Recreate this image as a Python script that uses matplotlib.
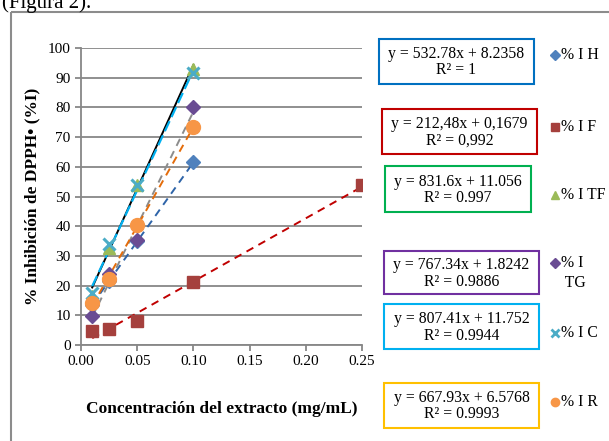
import numpy as np
import matplotlib
matplotlib.use("Agg")
import matplotlib.pyplot as plt
from matplotlib.patches import Rectangle

plt.rcParams["font.family"] = ["Liberation Serif", "DejaVu Serif"]

conc = [0.01, 0.025, 0.05, 0.1]
conc_f = [0.01, 0.025, 0.05, 0.1, 0.25]

i_h = [13.6, 21.5, 35.0, 61.5]
i_f = [4.8, 5.5, 8.1, 21.3, 53.8]
i_tf = [16.5, 32.5, 54.0, 93.0]
i_tg = [9.7, 24.0, 35.5, 80.0]
i_c = [17.5, 34.0, 54.0, 91.5]
i_r = [14.0, 22.3, 40.3, 73.5]

names = ["% I H", "% I F", "% I TF", "% I\n TG", "% I C", "% I R"]
slopes = [532.78, 212.48, 831.6, 767.34, 807.41, 667.93]
intercepts = [8.2358, 0.1679, 11.056, 1.8242, 11.752, 6.5768]
eq_lines = ["y = 532.78x + 8.2358", "y = 212,48x + 0,1679", "y = 831.6x + 11.056",
            "y = 767.34x + 1.8242", "y = 807.41x + 11.752", "y = 667.93x + 6.5768"]
r2_lines = ["R² = 1", "R² = 0,992", "R² = 0.997", "R² = 0.9886", "R² = 0.9944", "R² = 0.9993"]

series = [
    (conc, i_h, "D", "#4F81BD", 7),
    (conc_f, i_f, "s", "#A5403D", 9),
    (conc, i_tf, "^", "#9BBB59", 9),
    (conc, i_tg, "D", "#6A4C93", 7),
    (conc, i_c, "x", "#4BACC6", 9),
    (conc, i_r, "o", "#F79646", 10),
]
trend_styles = [
    ("#2E64A8", (0, (4, 3)), 1.4),
    ("#C00000", (0, (4, 3)), 1.4),
    ("black", "-", 1.4),
    ("#8C8C8C", (0, (4, 3)), 1.4),
    ("#00B0F0", (0, (5, 2)), 1.6),
    ("#E46C0A", (0, (4, 3)), 1.4),
]
box_colors = ["#0070C0", "#C00000", "#00B050", "#7030A0", "#00B0F0", "#FFC000"]

fig = plt.figure(figsize=(6.09, 4.41), dpi=100)
ax = fig.add_axes([81 / 609, 1 - 345 / 441, 281 / 609, 297 / 441])

for (xs, ys, mk, col, ms), (tc, ls, lw), m, b in zip(series, trend_styles, slopes, intercepts):
    xx = np.array([xs[0], xs[-1]])
    ax.plot(xx, m * xx + b, color=tc, linestyle=ls, linewidth=lw, zorder=3)

for xs, ys, mk, col, ms in series:
    if mk == "x":
        ax.plot(xs, ys, linestyle="none", marker="x", color=col, markersize=ms,
                markeredgewidth=2.2, zorder=4)
    else:
        ax.plot(xs, ys, linestyle="none", marker=mk, color=col, markersize=ms,
                markeredgecolor=col, zorder=4)

ax.set_xlim(0, 0.25)
ax.set_ylim(0, 100)
ax.set_xticks(np.arange(0, 0.26, 0.05))
ax.set_xticklabels([f"{v:.2f}" for v in np.arange(0, 0.26, 0.05)])
ax.set_yticks(range(0, 101, 10))
ax.yaxis.grid(True, color="#878787", linewidth=1.3)
ax.set_axisbelow(True)
for s in ["top", "right"]:
    ax.spines[s].set_visible(False)
for s in ["left", "bottom"]:
    ax.spines[s].set_color("#878787")
    ax.spines[s].set_linewidth(1.3)
ax.tick_params(colors="#878787", labelcolor="black", labelsize=11, length=4, width=1.3)
ax.set_ylabel("% Inhibición de DPPH• (%I)", fontsize=12.5, fontweight="bold", labelpad=5)
fig.text(222 / 609, 1 - 409 / 441, "Concentración del extracto (mg/mL)", fontsize=12.5,
         fontweight="bold", ha="center", va="center")

# overlay in pixel coordinates for frame, equation boxes and legend
ov = fig.add_axes([0, 0, 1, 1], zorder=-1)
ov.set_xlim(0, 609)
ov.set_ylim(441, 0)
ov.axis("off")
ov.add_patch(Rectangle((11, 12), 700, 500, fill=False, edgecolor="#8C8C8C", linewidth=1.5))
ov.text(2, 8, "(Figura 2).", fontsize=15, ha="left", va="baseline")

ov2 = fig.add_axes([0, 0, 1, 1], zorder=5)
ov2.set_xlim(0, 609)
ov2.set_ylim(441, 0)
ov2.axis("off")
ov2.patch.set_alpha(0)

boxes = [(379, 39, 155, 45), (382, 109, 155, 45), (385, 166, 146, 46),
         (384, 251, 155, 43), (384, 304, 155, 45), (384, 383, 155, 45)]
leg_y = [55, 127, 195, 263, 333, 402]
for (bx, by, bw, bh), l1, l2, ec in zip(boxes, eq_lines, r2_lines, box_colors):
    ov2.add_patch(Rectangle((bx, by), bw, bh, fill=True, facecolor="white",
                            edgecolor=ec, linewidth=1.5))
    cy = by + bh / 2
    ov2.text(bx + bw / 2, cy - 7.5, l1, fontsize=11.3, ha="center", va="center")
    ov2.text(bx + bw / 2, cy + 9, l2, fontsize=11.3, ha="center", va="center")

for (xs, ys, mk, col, ms), name, ly in zip(series, names, leg_y):
    if mk == "x":
        ov2.plot([555], [ly], marker="x", color=col, markersize=6, markeredgewidth=2)
    else:
        ov2.plot([555], [ly], marker=mk, color=col, markersize=6 if mk != "D" else 5,
                 markeredgecolor=col)
    if "\n" in name:
        ov2.text(561, ly - 8, name, fontsize=11.3, ha="left", va="top", linespacing=1.3)
    else:
        ov2.text(561, ly, name, fontsize=11.3, ha="left", va="center")

fig.savefig("out.png", dpi=100)
